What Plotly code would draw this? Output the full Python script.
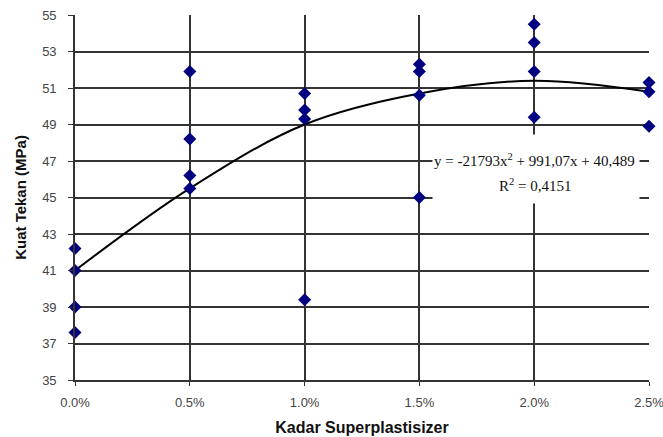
import plotly.graph_objects as go

# Observed data (fraction of superplasticizer, compressive strength MPa)
x_pts = [0.0, 0.0, 0.0, 0.0,
         0.005, 0.005, 0.005, 0.005,
         0.010, 0.010, 0.010, 0.010,
         0.015, 0.015, 0.015, 0.015,
         0.020, 0.020, 0.020, 0.020,
         0.025, 0.025, 0.025]
y_pts = [42.2, 41.0, 39.0, 37.6,
         51.9, 48.2, 46.2, 45.5,
         50.7, 49.8, 49.3, 39.4,
         52.3, 51.9, 50.6, 45.0,
         54.5, 53.5, 51.9, 49.4,
         51.3, 50.8, 48.9]

# Trendline
trend_x = [0.0, 0.005, 0.010, 0.015, 0.020, 0.025]
trend_y = [41.0, 45.5, 49.0, 50.7, 51.4, 50.8]

x_ticks = [0.0, 0.005, 0.010, 0.015, 0.020, 0.025]
x_tick_labels = ["0.0%", "0.5%", "1.0%", "1.5%", "2.0%", "2.5%"]
y_ticks = [35, 37, 39, 41, 43, 45, 47, 49, 51, 53, 55]

eq_line1 = "y = -21793x<sup>2</sup> + 991,07x + 40,489"
eq_line2 = "R<sup>2</sup> = 0,4151"

fig = go.Figure()
fig.add_trace(go.Scatter(
    x=trend_x, y=trend_y, mode="lines", line=dict(color="black", width=2, shape="spline"),
    hoverinfo="skip", cliponaxis=False))
fig.add_trace(go.Scatter(
    x=x_pts, y=y_pts, mode="markers",
    marker=dict(symbol="diamond", size=10, color="#000080"),
    cliponaxis=False))

# white label box hiding gridlines
fig.add_annotation(
    x=0.02008, y=46.55, xref="x", yref="y", text=" ", showarrow=False,
    bgcolor="white", width=206, height=68, borderpad=0)
fig.add_annotation(
    x=0.0200, y=47.05, xref="x", yref="y", text=eq_line1, showarrow=False,
    font=dict(family="Liberation Serif", size=15, color="#111"))
fig.add_annotation(
    x=0.02003, y=45.68, xref="x", yref="y", text=eq_line2, showarrow=False,
    font=dict(family="Liberation Serif", size=15, color="#111"))

fig.update_layout(
    width=663, height=437,
    margin=dict(l=75, r=14, t=15, b=57),
    paper_bgcolor="white", plot_bgcolor="white",
    showlegend=False,
    font=dict(family="Liberation Sans", color="#333"),
)
fig.update_xaxes(
    range=[0, 0.025], tickvals=x_ticks, ticktext=x_tick_labels,
    showgrid=True, gridcolor="#333", gridwidth=1.6,
    showline=True, linecolor="#333", linewidth=1.6, mirror=False,
    ticks="outside", ticklen=4, tickcolor="#333", ticklabelstandoff=6,
    ticklabeloverflow="allow",
    tickfont=dict(size=13, color="#444"),
    title=dict(text="<b>Kadar Superplastisizer</b>", font=dict(size=16, color="#111"), standoff=12),
    zeroline=False, automargin=False)
fig.update_yaxes(
    range=[35, 55], tickvals=y_ticks,
    showgrid=True, gridcolor="#333", gridwidth=1.6,
    showline=True, linecolor="#333", linewidth=1.6,
    ticks="outside", ticklen=5, tickcolor="#333", ticklabelstandoff=9,
    tickfont=dict(size=13, color="#444"),
    title=dict(text="<b>Kuat Tekan (MPa)</b>", font=dict(size=15, color="#111"), standoff=12),
    zeroline=False, automargin=False)

fig.write_html("out.html")
